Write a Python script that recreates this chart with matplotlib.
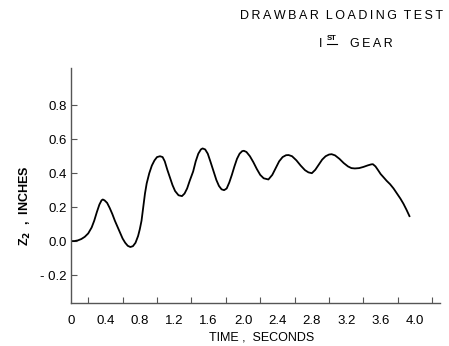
import matplotlib
matplotlib.use("Agg")
import matplotlib.pyplot as plt
from matplotlib.ticker import FixedLocator
from matplotlib.lines import Line2D

# ---- data ----
time_s = [0.00, 0.04, 0.08, 0.12, 0.16, 0.20, 0.24, 0.27, 0.30, 0.33, 0.355, 0.37,
          0.39, 0.42, 0.45, 0.48, 0.51, 0.54, 0.57, 0.60, 0.63, 0.66, 0.69, 0.72,
          0.75, 0.78, 0.80, 0.82, 0.84, 0.86, 0.88, 0.91, 0.94, 0.97, 1.00, 1.035,
          1.065, 1.09, 1.12, 1.15, 1.18, 1.21, 1.25, 1.29, 1.32, 1.35, 1.38, 1.42,
          1.45, 1.48, 1.51, 1.53, 1.56, 1.59, 1.62, 1.655, 1.69, 1.72, 1.75, 1.78,
          1.81, 1.84, 1.87, 1.90, 1.93, 1.96, 1.99, 2.01, 2.04, 2.08, 2.12, 2.16,
          2.20, 2.24, 2.295, 2.34, 2.38, 2.42, 2.46, 2.50, 2.53, 2.57, 2.62, 2.67,
          2.72, 2.76, 2.80, 2.84, 2.88, 2.92, 2.96, 3.00, 3.03, 3.07, 3.12, 3.17,
          3.22, 3.26, 3.30, 3.35, 3.40, 3.45, 3.49, 3.51, 3.54, 3.57, 3.60, 3.63,
          3.67, 3.71, 3.75, 3.79, 3.83, 3.865, 3.90, 3.935]
z2_in = [0.000, 0.000, 0.004, 0.012, 0.025, 0.045, 0.080, 0.120, 0.170, 0.215, 0.240, 0.245,
         0.240, 0.225, 0.195, 0.160, 0.120, 0.085, 0.050, 0.015, -0.010, -0.028, -0.035, -0.030,
         -0.010, 0.030, 0.070, 0.120, 0.200, 0.280, 0.340, 0.400, 0.445, 0.475, 0.495, 0.500,
         0.495, 0.470, 0.420, 0.375, 0.330, 0.295, 0.270, 0.265, 0.280, 0.310, 0.355, 0.410,
         0.470, 0.515, 0.540, 0.546, 0.540, 0.515, 0.470, 0.415, 0.360, 0.325, 0.305, 0.300,
         0.310, 0.345, 0.390, 0.440, 0.485, 0.515, 0.530, 0.532, 0.525, 0.500, 0.465, 0.425,
         0.390, 0.370, 0.363, 0.390, 0.430, 0.470, 0.495, 0.506, 0.507, 0.500, 0.476, 0.445,
         0.418, 0.405, 0.400, 0.420, 0.450, 0.480, 0.500, 0.510, 0.512, 0.505, 0.485, 0.460,
         0.440, 0.430, 0.428, 0.430, 0.437, 0.446, 0.452, 0.453, 0.440, 0.418, 0.395, 0.378,
         0.355, 0.335, 0.310, 0.280, 0.250, 0.220, 0.185, 0.147]

x_label_pos = [0.0, 0.4, 0.8, 1.2, 1.6, 2.0, 2.4, 2.8, 3.2, 3.6, 4.0]
x_labels = ["0", "0.4", "0.8", "1.2", "1.6", "2.0", "2.4", "2.8", "3.2", "3.6", "4.0"]
x_tick_marks = [0.2, 0.6, 1.0, 1.4, 1.8, 2.2, 2.6, 3.0, 3.4, 3.8, 4.2]
y_ticks = [-0.2, 0.0, 0.2, 0.4, 0.6, 0.8]
y_labels = ["- 0.2", "0.0", "0.2", "0.4", "0.6", "0.8"]

plt.rcParams['font.family'] = ['Liberation Sans', 'DejaVu Sans']

W, H = 449, 346
fig = plt.figure(figsize=(W / 100, H / 100), dpi=100)
left, right, top, bottom = 71, 440, 68, 303
ax = fig.add_axes([left / W, 1 - bottom / H, (right - left) / W, (bottom - top) / H])

ax.plot(time_s, z2_in, color="black", lw=1.3, solid_joinstyle="round")

ax.set_xlim(0, 4.29)
ax.set_ylim(-0.365, 1.02)

for s in ("top", "right"):
    ax.spines[s].set_visible(False)
for s in ("left", "bottom"):
    ax.spines[s].set_color("#555555")
    ax.spines[s].set_linewidth(1.0)

ax.xaxis.set_major_locator(FixedLocator(x_label_pos))
ax.set_xticklabels(x_labels)
ax.xaxis.set_minor_locator(FixedLocator(x_tick_marks))
ax.tick_params(axis="x", which="major", length=0, pad=9, labelsize=9.5)
ax.tick_params(axis="x", which="minor", direction="in", length=4, width=0.8, color="#555555")

ax.set_yticks(y_ticks)
ax.set_yticklabels(y_labels)
ax.tick_params(axis="y", which="major", direction="in", length=4, width=0.8,
               color="#555555", pad=3, labelsize=9.5)

fig.text(262 / W, 1 - 337 / H, "TIME ,  SECONDS", ha="center", va="center", fontsize=9)
fig.text(25 / W, 1 - 206 / H, r"Z$_\mathbf{2}$  ,  INCHES", ha="center", va="center",
         rotation=90, fontsize=9, fontweight="bold")

ts = "\u2009"
title1 = "  ".join(ts.join(w) for w in ["DRAWBAR", "LOADING", "TEST"])
fig.text(341 / W, 1 - 16 / H, title1, ha="center", va="center", fontsize=9)
fig.text(321 / W, 1 - 44 / H, "I", ha="center", va="center", fontsize=9)
fig.text(332 / W, 1 - 39 / H, "ST", ha="center", va="center", fontsize=5.5, fontweight="bold")
fig.add_artist(Line2D([327 / W, 337 / W], [1 - 44 / H, 1 - 44 / H], color="black", lw=0.8,
                      transform=fig.transFigure))
fig.text(371 / W, 1 - 44 / H, ts.join("GEAR"), ha="center", va="center", fontsize=9)

fig.savefig("out.png", dpi=100)
